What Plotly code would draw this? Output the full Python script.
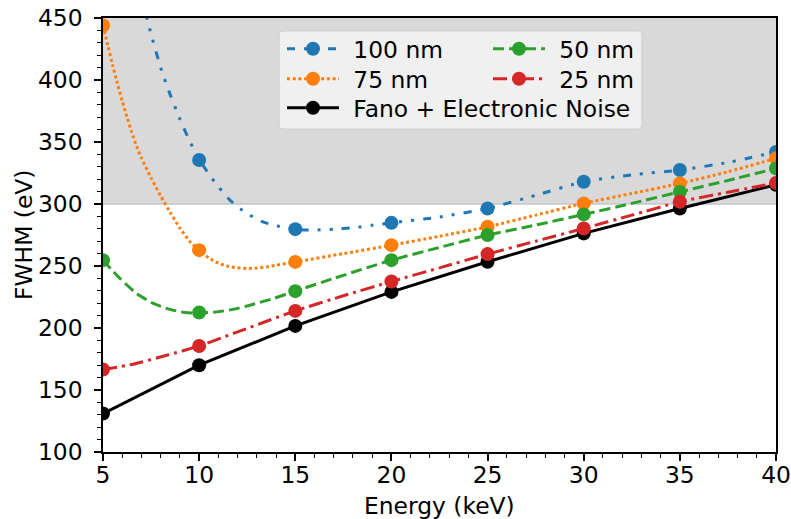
import plotly.graph_objects as go

# ---------------- data ----------------
energy = [5, 10, 15, 20, 25, 30, 35, 40]

fwhm_100nm = [None, 335.5, 279.7, 284.8, 296.4, 318.0, 327.4, 342.0]
fwhm_75nm = [444.0, 262.8, 253.3, 266.8, 281.6, 300.5, 316.6, 336.8]
fwhm_50nm = [254.7, 212.5, 229.7, 254.7, 274.9, 291.6, 309.8, 328.7]
fwhm_25nm = [166.5, 185.5, 213.8, 237.5, 259.6, 280.3, 301.8, 317.0]
fwhm_fano = [131.0, 170.0, 201.7, 229.1, 253.4, 276.3, 296.4, 315.5]

# fitted curves
fit_x_100nm = [7.2, 7.5, 8.0, 8.5, 9.0, 9.5, 10.0, 10.56, 11.0, 11.52, 12.0,
               12.64, 13.25, 13.86, 15.0, 15.94, 17.0, 18.0, 19.06, 20.0, 22.5, 25.0,
               27.5, 30.0, 32.5, 35.0, 37.5, 40.0]
fit_y_100nm = [455.0, 437.0, 410.0, 388.0, 368.5, 351.0, 336.0, 323.0, 314.0, 304.5,
               297.7, 291.0, 286.0, 283.0, 279.5, 279.0, 279.7, 280.8, 283.0, 284.8, 289.5,
               296.4, 307.0, 318.0, 323.5, 327.4, 333.5, 342.0]

fit_x_75nm = [5.0, 5.25, 5.5, 5.75, 6.0, 6.25, 6.5, 6.75, 7.0, 7.5, 8.0, 8.5, 9.0, 9.5,
              10.0, 10.5, 11.0, 11.5, 12.0, 12.5, 13.0, 13.5, 14.0, 15.0, 17.5,
              20.0, 22.5, 25.0, 27.5, 30.0, 32.5, 35.0, 37.5, 40.0]
fit_y_75nm = [444.0, 428.0, 412.0, 397.0, 383.0, 370.0, 357.5, 346.5, 337.0, 321.0, 306.5,
              293.0, 280.5, 270.0, 262.6, 256.5, 252.3, 249.8, 248.5, 248.0, 248.3, 249.3,
              250.6, 253.3, 260.0, 266.8, 274.0, 281.6, 291.0, 300.5, 308.5, 316.6, 326.0,
              336.8]

fit_x_50nm = [5.0, 5.88, 6.75, 7.62, 8.48, 9.26, 10.0, 10.9, 11.77, 12.64, 13.86, 15.0,
              17.0, 20.0, 22.5, 25.0, 27.5, 30.0, 32.5, 35.0, 37.5, 40.0]
fit_y_50nm = [254.7, 240.0, 227.8, 219.8, 215.0, 212.5, 212.0, 213.0, 215.0, 218.4, 223.8,
              229.7, 240.0, 254.7, 265.0, 274.9, 283.0, 291.6, 300.5, 309.8, 319.0, 328.7]

fit_x_25nm = [5.0, 6.56, 8.31, 10.0, 11.78, 15.0, 17.5, 20.0, 22.5, 25.0, 27.5, 30.0,
              32.5, 35.0, 37.5, 40.0]
fit_y_25nm = [166.5, 170.8, 178.0, 185.5, 195.6, 213.8, 226.0, 237.5, 248.5, 259.6, 270.0,
              280.3, 291.0, 301.8, 309.5, 317.0]

labels = ["100 nm", "75 nm", "50 nm", "25 nm", "Fano + Electronic Noise"]
x_ticks = [5, 10, 15, 20, 25, 30, 35, 40]
y_ticks = [100, 150, 200, 250, 300, 350, 400, 450]
x_title = "Energy (keV)"
y_title = "FWHM (eV)"

# ---------------- styling ----------------
FONT = "DejaVu Sans"
FS = 23.4
LW = 3
MS = 14
colors = {"100 nm": "#1f77b4", "75 nm": "#ff7f0e", "50 nm": "#2ca02c",
          "25 nm": "#d62728", "Fano + Electronic Noise": "#000000"}
dashes = {"100 nm": "8px,9px,3px,9px,3px,9px", "75 nm": "3px,2.7px",
          "50 nm": "11px,5px", "25 nm": "14px,5px,3px,5px",
          "Fano + Electronic Noise": "solid"}

series = {
    "Fano + Electronic Noise": (energy, fwhm_fano, None, None),
    "100 nm": (energy, fwhm_100nm, fit_x_100nm, fit_y_100nm),
    "75 nm": (energy, fwhm_75nm, fit_x_75nm, fit_y_75nm),
    "50 nm": (energy, fwhm_50nm, fit_x_50nm, fit_y_50nm),
    "25 nm": (energy, fwhm_25nm, fit_x_25nm, fit_y_25nm),
}

# plot-area geometry in px (for paper-coordinate conversions)
W, H = 791, 519
ML, MR, MT, MB = 103, 15, 18, 67
pw, ph = W - ML - MR, H - MT - MB


def px2paper(xp, yp):
    return (xp - ML) / pw, (H - MB - yp) / ph


fig = go.Figure()

for name, (ex, ey, fx, fy) in series.items():
    c = colors[name]
    if fx is None:
        fig.add_trace(go.Scatter(x=ex, y=ey, mode="lines", showlegend=False,
                                 line=dict(color=c, width=LW, dash=dashes[name]),
                                 hoverinfo="skip"))
    else:
        fig.add_trace(go.Scatter(x=fx, y=fy, mode="lines", showlegend=False,
                                 line=dict(color=c, width=LW, dash=dashes[name],
                                           shape="spline", smoothing=0.6),
                                 hoverinfo="skip"))
    fig.add_trace(go.Scatter(x=ex, y=ey, mode="markers", showlegend=False,
                             marker=dict(color=c, size=MS, line=dict(width=0)),
                             cliponaxis=True))

# legend entries: one single-item legend per slot (two columns, three rows)
legend_slots = {
    "100 nm": ("legend", 282, 49),
    "75 nm": ("legend2", 282, 79),
    "Fano + Electronic Noise": ("legend3", 282, 108),
    "50 nm": ("legend4", 488, 49),
    "25 nm": ("legend5", 488, 79),
}
legend_layout = {}
for name, (lg, lx, ly) in legend_slots.items():
    c = colors[name]
    fig.add_trace(go.Scatter(x=[None], y=[None], mode="lines+markers",
                             name="\u2009\u2009" + name, legend=lg,
                             line=dict(color=c, width=LW, dash=dashes[name]),
                             marker=dict(color=c, size=MS)))
    px_, py_ = px2paper(lx, ly)
    legend_layout[lg] = dict(x=px_, y=py_, xanchor="left", yanchor="middle",
                             bgcolor="rgba(0,0,0,0)", borderwidth=0, itemwidth=52,
                             font=dict(family=FONT, size=FS, color="black"))

# legend frame (rounded rectangle)
bx0, by1 = px2paper(279, 31)
bx1, by0 = px2paper(642, 129)
rx, ry = 4 / pw, 4 / ph
path = (f"M{bx0+rx},{by0} L{bx1-rx},{by0} Q{bx1},{by0} {bx1},{by0+ry} "
        f"L{bx1},{by1-ry} Q{bx1},{by1} {bx1-rx},{by1} L{bx0+rx},{by1} "
        f"Q{bx0},{by1} {bx0},{by1-ry} L{bx0},{by0+ry} Q{bx0},{by0} {bx0+rx},{by0} Z")

shapes = [
    dict(type="rect", xref="paper", yref="y", x0=0, x1=1, y0=300, y1=450,
         fillcolor="#d9d9d9", line=dict(width=0), layer="below"),
    dict(type="line", xref="paper", yref="y", x0=0, x1=1, y0=300, y1=300,
         line=dict(color="#c4c4c4", width=1.5), layer="below"),
    dict(type="path", xref="paper", yref="paper", path=path,
         fillcolor="#f0f0f0", line=dict(color="#cfcfcf", width=1.2), layer="above"),
]

# axis titles placed as annotations for exact positioning
xt_x, xt_y = px2paper((ML + W - MR) / 2, 506)
yt_x, yt_y = px2paper(24, (MT + H - MB) / 2)
annotations = [
    dict(text=x_title, xref="paper", yref="paper", x=xt_x, y=xt_y, xanchor="center",
         yanchor="middle", showarrow=False, font=dict(family=FONT, size=FS, color="black")),
    dict(text=y_title, xref="paper", yref="paper", x=yt_x, y=yt_y, xanchor="center",
         yanchor="middle", textangle=-90, showarrow=False,
         font=dict(family=FONT, size=FS, color="black")),
]

axis_common = dict(showline=True, linecolor="black", linewidth=1.5, mirror=True,
                   ticks="outside", ticklen=7, tickwidth=1.5, tickcolor="black",
                   showgrid=False, zeroline=False, automargin=False,
                   tickfont=dict(family=FONT, size=FS, color="black"))

fig.update_layout(
    width=W, height=H,
    margin=dict(l=ML, r=MR, t=MT, b=MB),
    paper_bgcolor="white", plot_bgcolor="white",
    font=dict(family=FONT, size=FS, color="black"),
    shapes=shapes,
    annotations=annotations,
    xaxis=dict(range=[5, 40], tickvals=x_ticks, ticktext=[str(v) for v in x_ticks],
               ticklabelstandoff=-6,
               minor=dict(dtick=1, ticks="outside", ticklen=4, tickwidth=1.2, tickcolor="black"),
               **axis_common),
    yaxis=dict(range=[100, 450], tickvals=y_ticks, ticktext=[str(v) for v in y_ticks],
               ticklabelstandoff=7,
               minor=dict(dtick=10, ticks="outside", ticklen=4, tickwidth=1.2, tickcolor="black"),
               **axis_common),
    **legend_layout,
)

fig.write_html("out.html", post_script="document.body.style.margin='0';",
               config={"displayModeBar": False})
